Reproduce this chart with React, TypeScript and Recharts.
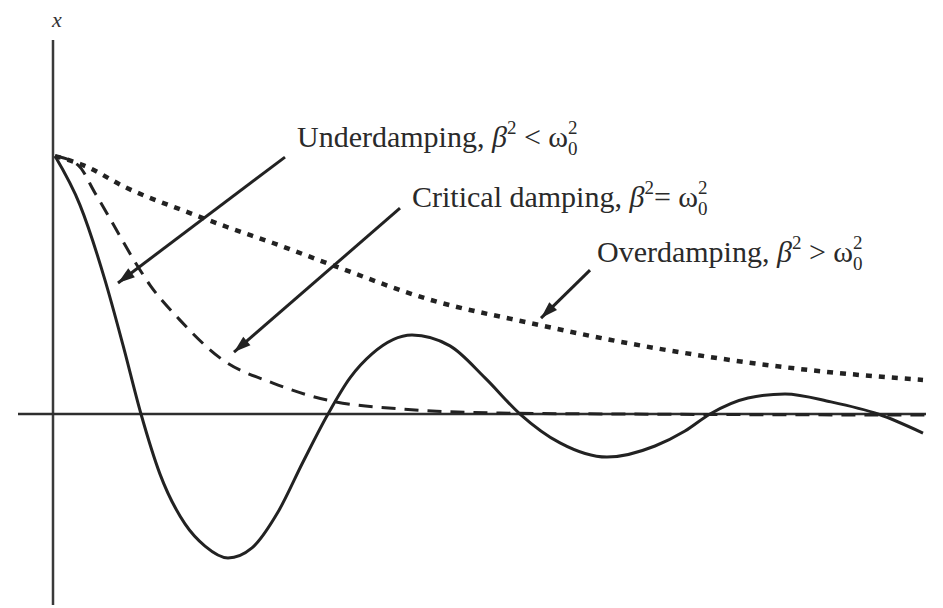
import React from 'react';
import { ComposedChart, Line, XAxis, YAxis, ReferenceLine, ReferenceDot } from 'recharts';

// Displacement x(t) for the three damping regimes (x normalised to 1 at t = 0)
const underdampedT = [0.02, 0.27, 0.52, 0.7, 0.88, 1.07, 1.32, 1.52, 1.75, 1.99, 2.25, 2.5, 2.75, 2.97, 3.19, 3.59, 3.97, 4.32, 4.67, 5.07, 5.54, 6.02, 6.32, 6.57, 6.95, 7.32, 7.78, 8.25, 8.7];
const underdampedX = [1.0, 0.81, 0.519, 0.267, 0, -0.233, -0.426, -0.512, -0.558, -0.519, -0.38, -0.186, 0, 0.14, 0.233, 0.306, 0.264, 0.14, 0, -0.112, -0.167, -0.124, -0.066, 0, 0.062, 0.078, 0.047, 0, -0.074];

const criticalT = [0.02, 0.25, 0.42, 0.59, 0.79, 0.97, 1.27, 1.7, 2.2, 2.74, 3.62, 4.47, 5.67, 8.72];
const criticalX = [1.0, 0.965, 0.857, 0.744, 0.609, 0.5, 0.364, 0.209, 0.12, 0.054, 0.016, 0.004, 0, -0.004];

const overdampedT = [0.02, 0.3, 0.74, 1.37, 1.74, 2.2, 2.74, 3.78, 4.77, 5.58, 6.57, 7.55, 8.7];
const overdampedX = [1.0, 0.965, 0.876, 0.779, 0.725, 0.663, 0.585, 0.442, 0.353, 0.287, 0.221, 0.171, 0.132];

// Annotation arrows: [tail, tip] in (t, x) units
const underArrow = [[2.32, 0.996], [0.65, 0.508]];
const criticalArrow = [[3.47, 0.798], [1.81, 0.24]];
const overArrow = [[5.37, 0.558], [4.88, 0.372]];

const T_DOMAIN: [number, number] = [-0.53, 8.9];
const X_DOMAIN: [number, number] = [-0.752, 1.605];

const toRows = (ts: number[], xs: number[]) => ts.map((t, i) => ({ t, x: xs[i] }));
const arrowRows = (pts: number[][]) => pts.map(([t, x]) => ({ t, x }));

const SERIF = "'Liberation Serif', 'Times New Roman', serif";
const INK = '#222';

function makeArrowHead(id: string) {
  let tail = { x: 0, y: 0 };
  return (props: any) => {
    const { cx, cy, index } = props;
    if (index === 0) {
      tail = { x: cx, y: cy };
      return <g key={`${id}-tail`} />;
    }
    const ang = Math.atan2(cy - tail.y, cx - tail.x);
    const L = 17;
    const W = 5.5;
    const bx = cx - L * Math.cos(ang);
    const by = cy - L * Math.sin(ang);
    const nx = -Math.sin(ang) * W;
    const ny = Math.cos(ang) * W;
    return (
      <polygon
        key={`${id}-head`}
        points={`${cx},${cy} ${bx + nx},${by + ny} ${bx - nx},${by - ny}`}
        fill={INK}
      />
    );
  };
}

function dampingLabel(name: string, rel: string) {
  return (p: any) => {
    const vb = p.viewBox || {};
    return (
      <text x={vb.x} y={vb.y} fontFamily={SERIF} fontSize={30} fill="#2a2a2a">
        {`${name}, `}
        <tspan fontStyle="italic">β</tspan>
        <tspan fontSize={19} dy={-13}>2</tspan>
        <tspan dy={13}>{rel}</tspan>
        <tspan>ω</tspan>
        <tspan fontSize={19} dy={-13}>2</tspan>
        <tspan fontSize={19} dx={-9.5} dy={21}>0</tspan>
      </text>
    );
  };
}

function axisLabel(p: any) {
  const vb = p.viewBox || {};
  return (
    <text x={vb.x} y={vb.y} fontFamily={SERIF} fontStyle="italic" fontSize={22} fill="#333" textAnchor="middle">
      x
    </text>
  );
}

export default function App() {
  return (
    <div style={{ position: 'absolute', left: 0, top: 0, width: 943, height: 608, background: '#fff' }}>
      <ComposedChart width={943} height={608} margin={{ top: 0, right: 0, bottom: 0, left: 0 }}>
        <XAxis type="number" dataKey="t" domain={T_DOMAIN} hide allowDataOverflow />
        <YAxis type="number" domain={X_DOMAIN} hide allowDataOverflow />

        <ReferenceLine segment={[{ x: 0, y: 1.45 }, { x: 0, y: -0.74 }]} stroke="#3a3a3a" strokeWidth={2.5} />
        <ReferenceLine segment={[{ x: -0.35, y: 0 }, { x: 8.73, y: 0 }]} stroke="#2e2e2e" strokeWidth={2.5} />

        <Line
          data={toRows(overdampedT, overdampedX)}
          dataKey="x"
          type="monotone"
          stroke={INK}
          strokeWidth={4.5}
          strokeDasharray="6 7"
          dot={false}
          activeDot={false}
          isAnimationActive={false}
        />
        <Line
          data={toRows(criticalT, criticalX)}
          dataKey="x"
          type="monotone"
          stroke={INK}
          strokeWidth={3}
          strokeDasharray="14 9"
          dot={false}
          activeDot={false}
          isAnimationActive={false}
        />
        <Line
          data={toRows(underdampedT, underdampedX)}
          dataKey="x"
          type="monotone"
          stroke={INK}
          strokeWidth={3}
          dot={false}
          activeDot={false}
          isAnimationActive={false}
        />

        <Line data={arrowRows(underArrow)} dataKey="x" type="linear" stroke={INK} strokeWidth={3} dot={makeArrowHead('under')} activeDot={false} isAnimationActive={false} />
        <Line data={arrowRows(criticalArrow)} dataKey="x" type="linear" stroke={INK} strokeWidth={3} dot={makeArrowHead('critical')} activeDot={false} isAnimationActive={false} />
        <Line data={arrowRows(overArrow)} dataKey="x" type="linear" stroke={INK} strokeWidth={3} dot={makeArrowHead('over')} activeDot={false} isAnimationActive={false} />

        <ReferenceDot x={0.04} y={1.5} r={0} fill="none" stroke="none" label={axisLabel} />
        <ReferenceDot x={2.44} y={1.035} r={0} fill="none" stroke="none" label={dampingLabel('Underdamping', ' < ')} />
        <ReferenceDot x={3.59} y={0.802} r={0} fill="none" stroke="none" label={dampingLabel('Critical damping', '= ')} />
        <ReferenceDot x={5.44} y={0.589} r={0} fill="none" stroke="none" label={dampingLabel('Overdamping', ' > ')} />
      </ComposedChart>
    </div>
  );
}
